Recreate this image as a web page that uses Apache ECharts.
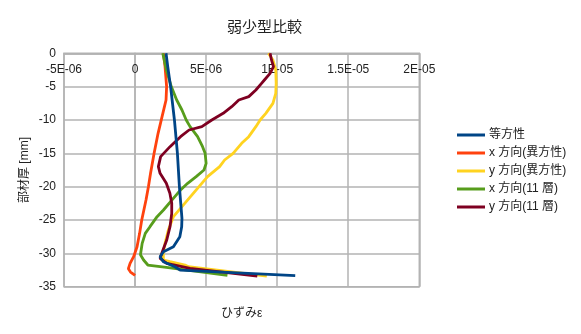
<!DOCTYPE html>
<html>
<head>
<meta charset="utf-8">
<script src="https://cdn.jsdelivr.net/npm/echarts@6/dist/echarts.min.js"></script>
<style>
  html, body { margin: 0; padding: 0; background: #fff; }
  #chart { width: 581px; height: 334px; }
</style>
</head>
<body>
<div id="chart"></div>
<script>
// Series names (legend order)
const seriesNames = ['等方性', 'x 方向(異方性)', 'y 方向(異方性)', 'x 方向(11 層)', 'y 方向(11 層)'];

// 等方性
const isoDepth  = [0, -2, -5, -10, -15, -20, -24.75, -26, -27.5, -29, -29.75, -30.5, -31.25, -32, -32.5, -33.35];
const isoStrain = [2.18e-6, 2.3e-6, 2.5e-6, 2.77e-6, 2.98e-6, 3.12e-6, 3.3e-6, 3.28e-6, 3.15e-6, 2.7e-6, 2.0e-6, 1.76e-6, 1.99e-6, 2.8e-6, 3.17e-6, 11.27e-6];

// x 方向(異方性)
const xAnDepth  = [0, -2, -5, -7, -9.5, -12, -15, -18, -20, -22, -25, -27, -29, -30.5, -31.5, -32.3, -32.8, -33.3];
const xAnStrain = [2.0e-6, 2.11e-6, 2.22e-6, 2.18e-6, 1.9e-6, 1.62e-6, 1.34e-6, 1.09e-6, 0.94e-6, 0.77e-6, 0.47e-6, 0.32e-6, 0.14e-6, -0.1e-6, -0.35e-6, -0.47e-6, -0.32e-6, 0];

// y 方向(異方性)
const yAnDepth  = [0, -1, -2.5, -4.5, -6, -7.5, -9, -10, -11, -12.5, -13.5, -15, -16, -17, -18.5, -20, -21.5, -23, -24.5, -26.5, -28.5, -29.75, -31, -31.25, -31.75, -32, -33.4];
const yAnStrain = [9.38e-6, 9.7e-6, 9.9e-6, 9.93e-6, 9.9e-6, 9.7e-6, 9.2e-6, 8.8e-6, 8.5e-6, 8.0e-6, 7.5e-6, 6.9e-6, 6.3e-6, 5.95e-6, 5.1e-6, 4.5e-6, 3.9e-6, 3.3e-6, 2.7e-6, 2.34e-6, 2.11e-6, 1.99e-6, 1.99e-6, 2.46e-6, 3.52e-6, 3.75e-6, 9.27e-6];

// x 方向(11 層)
const x11Depth  = [0, -2.5, -5, -7, -8.5, -10, -11, -12.5, -14, -15, -16.5, -17.5, -18.5, -19.5, -20.5, -21.5, -23.5, -24.5, -26, -27, -28.5, -30.2, -31, -31.75, -32.1, -33.3];
const x11Strain = [1.95e-6, 2.2e-6, 2.55e-6, 2.93e-6, 3.3e-6, 3.6e-6, 3.87e-6, 4.4e-6, 4.75e-6, 4.93e-6, 5.0e-6, 4.85e-6, 4.3e-6, 3.7e-6, 3.2e-6, 2.8e-6, 2.0e-6, 1.55e-6, 1.05e-6, 0.72e-6, 0.5e-6, 0.38e-6, 0.6e-6, 0.9e-6, 2.2e-6, 6.5e-6];

// y 方向(11 層)
const y11Depth  = [0, -1, -2, -3, -4, -4.5, -5.5, -6.5, -7, -8, -9, -10, -11, -11.5, -12.5, -14, -15.5, -17, -18, -19.5, -21, -22.5, -24, -26, -28, -30, -30.75, -31.5, -32.25, -33.4];
const y11Strain = [9.5e-6, 9.6e-6, 9.74e-6, 9.5e-6, 9.1e-6, 8.9e-6, 8.5e-6, 8.0e-6, 7.3e-6, 6.8e-6, 6.2e-6, 5.4e-6, 4.7e-6, 3.8e-6, 3.2e-6, 2.46e-6, 1.8e-6, 1.64e-6, 1.76e-6, 2.2e-6, 2.45e-6, 2.58e-6, 2.58e-6, 2.46e-6, 2.23e-6, 1.88e-6, 1.76e-6, 2.23e-6, 3.87e-6, 8.6e-6];

const colors = ['#004586', '#ff420e', '#ffd320', '#579d1c', '#7e0021'];
const depths  = [isoDepth, xAnDepth, yAnDepth, x11Depth, y11Depth];
const strains = [isoStrain, xAnStrain, yAnStrain, x11Strain, y11Strain];

// Strain axis labels in spreadsheet style: 5E-06, 1.5E-05
function sciLabel(v) {
  if (Math.abs(v) < 1e-12) return '0';
  const s = Number(v.toPrecision(6)).toExponential();
  const parts = s.split('e');
  const sign = parts[1][0] === '-' ? '-' : '+';
  let exp = parts[1].replace(/^[+-]/, '');
  if (exp.length < 2) exp = '0' + exp;
  return parts[0] + 'E' + sign + exp;
}

const font = '"Liberation Sans", "Noto Sans CJK JP", sans-serif';
const gridColor = '#b3b3b3';

const series = seriesNames.map((name, i) => ({
  name: name,
  type: 'line',
  data: strains[i].map((s, k) => [s, depths[i][k]]),
  showSymbol: false,
  symbol: 'none',
  smooth: false,
  z: i === 0 ? 5 : 3,
  lineStyle: { color: colors[i], width: 2.8 },
  itemStyle: { color: colors[i] }
}));

const chart = echarts.init(document.getElementById('chart'), null, { renderer: 'canvas' });
chart.setOption({
  backgroundColor: '#ffffff',
  animation: false,
  textStyle: { fontFamily: font },
  title: {
    text: '弱少型比較',
    left: 222,
    top: 15,
    textStyle: { fontFamily: font, fontSize: 15, fontWeight: 'normal', color: '#222' }
  },
  legend: {
    orient: 'vertical',
    left: 452,
    top: 123,
    itemWidth: 28,
    itemHeight: 3,
    itemGap: 4,
    icon: 'rect',
    data: seriesNames,
    textStyle: { fontFamily: font, fontSize: 12, color: '#222', lineHeight: 14, padding: [0, 0, 0, -1] }
  },
  grid: {
    left: 64, top: 53.3, width: 355.3, height: 233.4,
    show: true, borderColor: gridColor, borderWidth: 1.5,
    containLabel: false,
    outerBoundsMode: 'none'
  },
  xAxis: {
    type: 'value',
    min: -5e-6, max: 2e-5, interval: 5e-6,
    // strain axis crosses at depth 0 (top edge); labels hang below it
    position: 'top',
    name: 'ひずみε',
    nameLocation: 'middle',
    nameGap: -266,
    nameMoveOverlap: false,
    nameTextStyle: { fontFamily: font, fontSize: 12, color: '#222' },
    axisLine: { show: true, onZero: false, lineStyle: { color: gridColor, width: 1.5 } },
    axisTick: { show: false },
    axisLabel: { inside: true, formatter: sciLabel, fontSize: 12, color: '#222', margin: 10, fontFamily: font, showMinLabel: true, showMaxLabel: true },
    splitLine: { show: true, lineStyle: { color: gridColor, width: 1.5 } }
  },
  yAxis: {
    type: 'value',
    min: -35, max: 0, interval: 5,
    name: '部材厚 [mm]',
    nameLocation: 'middle',
    nameRotate: 90,
    nameGap: 33,
    nameMoveOverlap: false,
    nameTextStyle: { fontFamily: font, fontSize: 12, color: '#222' },
    axisLine: { show: true, onZero: true, lineStyle: { color: gridColor, width: 1.5 } },
    axisTick: { show: false },
    axisLabel: { fontSize: 12, color: '#222', margin: 8, fontFamily: font, showMinLabel: true, showMaxLabel: true },
    splitLine: { show: true, lineStyle: { color: gridColor, width: 1.5 } }
  },
  series: series
});
</script>
</body>
</html>
